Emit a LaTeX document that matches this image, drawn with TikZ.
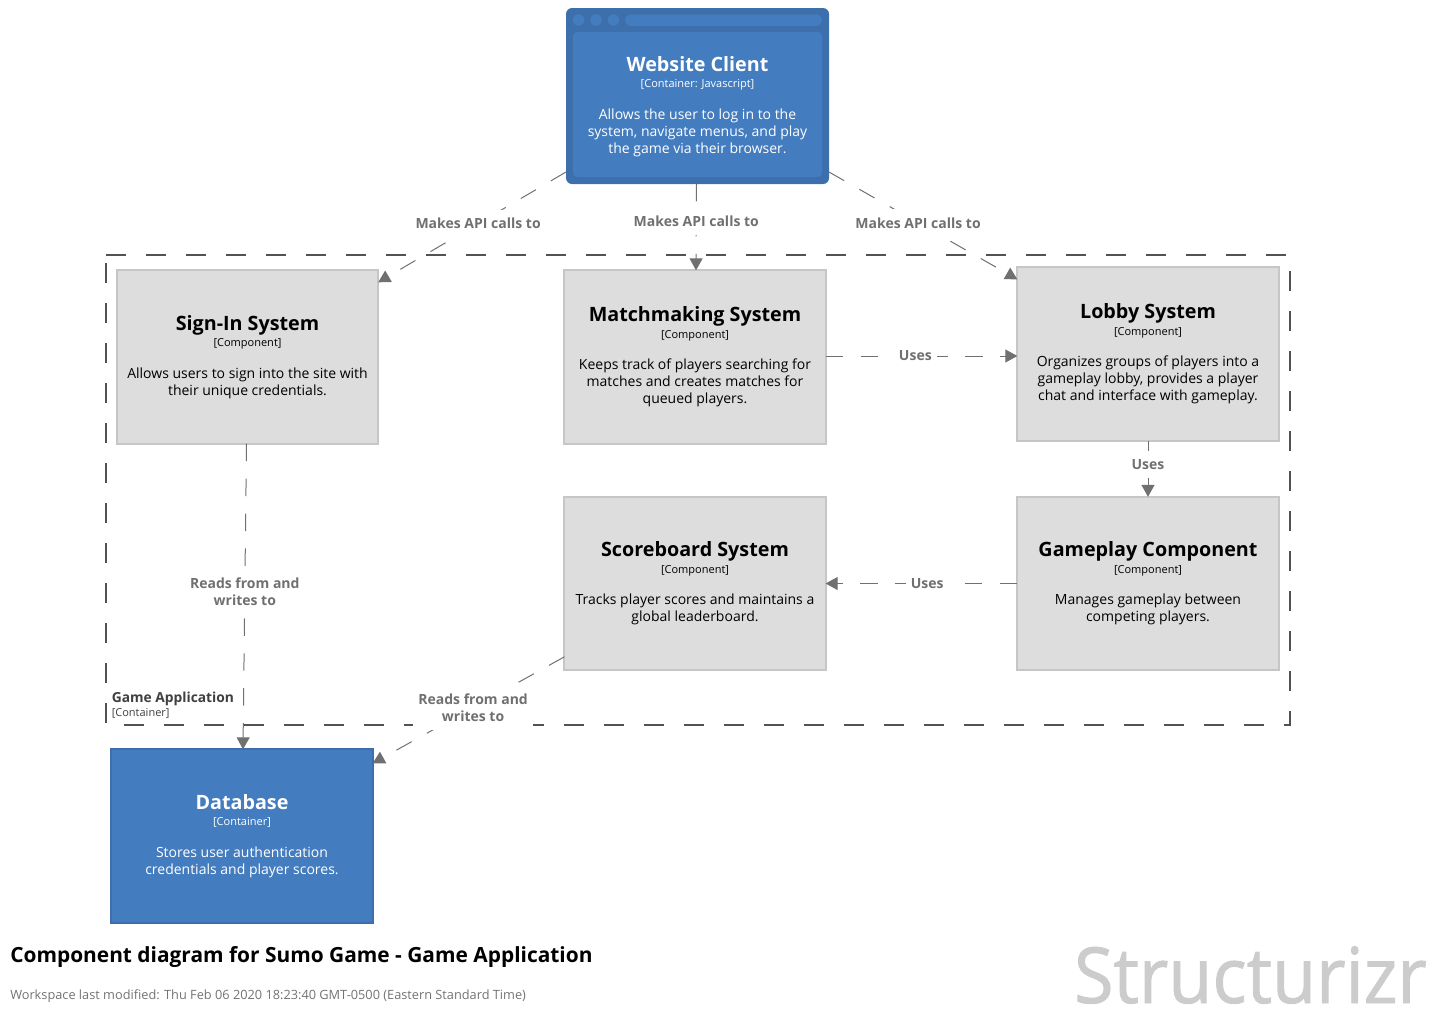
\documentclass[tikz,border=0pt]{standalone}
\usepackage{fontspec}
\setmainfont{Open Sans}
\newfontfamily\logofont[FakeBold=1.2,FakeStretch=0.93]{Open Sans}
\usetikzlibrary{arrows.meta}
\definecolor{elblue}{HTML}{437CBF}
\definecolor{eldark}{HTML}{3D6FAC}
\definecolor{elgray}{HTML}{DDDDDD}
\definecolor{elline}{HTML}{C6C6C6}
\definecolor{linkgray}{HTML}{707070}
\newcommand{\eltitle}[1]{{\fontsize{14.8}{18}\selectfont\bfseries #1}}
\newcommand{\elkind}[1]{{\fontsize{8.25}{12}\selectfont #1}}
\tikzset{
  x=0.75pt,y=-0.75pt,
  elbox/.style={draw=elline,fill=elgray,line width=1.5pt,minimum width=196pt,minimum height=130pt,outer sep=0pt,
    align=center,inner sep=0pt,font=\fontsize{10.5}{12.75}\selectfont,text=black},
  bluebox/.style={elbox,draw=eldark,fill=elblue,text=white},
  uses/.style={draw=linkgray,line width=0.75pt,dash pattern=on 13.1pt off 13.1pt,-{Triangle[length=9pt,width=9.75pt,fill=linkgray]}},
  uselabel/.style={fill=white,text=linkgray,align=center,inner xsep=3.75pt,inner ysep=6.5pt,font=\fontsize{10.5}{12.75}\selectfont\bfseries},
}
\begin{document}
\begin{tikzpicture}
\useasboundingbox (0,0) rectangle (1436,1015);

% boundary of the container
\draw[line width=1.5pt,draw=black!68,dash pattern=on 15pt off 15pt] (105.5,255) -- (1290,255) -- (1290,724.5) -- (105.5,724.5) -- cycle;

\node[elbox] (signin) at (247.5,357) {\eltitle{Sign-In System}\\[-0.5pt]\elkind{[Component]}\\[10.75pt]
  Allows users to sign into the site with\\their unique credentials.};
\node[elbox] (matchmaking) at (695,357) {\eltitle{Matchmaking System}\\[-0.5pt]\elkind{[Component]}\\[10.75pt]
  Keeps track of players searching for\\matches and creates matches for\\queued players.};
\node[elbox] (lobby) at (1148,354) {\eltitle{Lobby System}\\[-0.5pt]\elkind{[Component]}\\[10.75pt]
  Organizes groups of players into a\\gameplay lobby, provides a player\\chat and interface with gameplay.};
\node[elbox] (scoreboard) at (695,583.5) {\eltitle{Scoreboard System}\\[-0.5pt]\elkind{[Component]}\\[10.75pt]
  Tracks player scores and maintains a\\global leaderboard.};
\node[elbox] (gameplay) at (1148,583.5) {\eltitle{Gameplay Component}\\[-0.5pt]\elkind{[Component]}\\[10.75pt]
  Manages gameplay between\\competing players.};
\node[bluebox] (database) at (242,836) {\eltitle{Database}\\[-0.5pt]\elkind{[Container]}\\[10.75pt]
  Stores user authentication\\credentials and player scores.};

% browser shape
\node[draw=none,fill=eldark,rounded corners=4.5pt,minimum width=197.25pt,minimum height=132pt,outer sep=0pt] (client) at (697.5,96) {};
\fill[elblue,rounded corners=3pt] (573,32) rectangle (822,177);
\fill[elblue,rounded corners=4pt] (625,14.5) rectangle (822,26);
\foreach \dotx in {578.5,596,613.5}
  \fill[elblue] (\dotx,20) circle (4.3pt);
\node[align=center,inner sep=0pt,text=white,font=\fontsize{10.5}{12.75}\selectfont] (clienttext) at (697.5,106.5) {\eltitle{Website Client}\\[-0.5pt]\elkind{[Container: Javascript]}\\[10.75pt]
  Allows the user to log in to the\\system, navigate menus, and play\\the game via their browser.};

% connectors
\draw[uses] ([yshift=9pt]client.south west) -- ([yshift=-9pt]signin.north east) node[uselabel,pos=.468] (apisignin) {Makes API calls to};
\draw[uses] ([xshift=-.75pt]client.south) -- ([xshift=.75pt]matchmaking.north) node[uselabel,pos=.43] (apimatch) {Makes API calls to};
\draw[uses] ([yshift=9pt]client.south east) -- ([yshift=-9pt]lobby.north west) node[uselabel,pos=.473] (apilobby) {Makes API calls to};
\draw[uses] ([yshift=.75pt]matchmaking.east) -- ([yshift=-1.5pt]lobby.west) node[uselabel,pos=.468] (usesa) {Uses};
\draw[uses] (lobby.south) -- (gameplay.north) node[uselabel,pos=.42] (usesb) {Uses};
\draw[uses] (gameplay.west) -- (scoreboard.east) node[uselabel,pos=.47] (usesc) {Uses};
\draw[uses] ([xshift=-.75pt]signin.south) -- ([xshift=.75pt]database.north) node[uselabel,pos=.483] (readsa) {Reads from and\\writes to};
\draw[uses] ([yshift=10pt]scoreboard.south west) -- ([yshift=-10.5pt]database.north east) node[uselabel,pos=.476] (readsb) {Reads from and\\writes to};

% labels
\node[fill=white,anchor=north west,inner sep=0pt,minimum width=95pt,minimum height=23pt] (boundlabel) at (108,688.5) {};
\node[anchor=west,inner sep=0pt,text=black!75,font=\fontsize{10.35}{12}\selectfont\bfseries] (boundname) at (111.5,698.5) {Game Application};
\node[anchor=west,inner sep=0pt,text=black!75,font=\fontsize{8.25}{10}\selectfont] (boundkind) at (111.5,713.5) {[Container]};
\node[anchor=base west,inner sep=0pt,font=\fontsize{15.67}{20}\selectfont\bfseries] (title) at (10,962) {Component diagram for Sumo Game - Game Application};
\node[anchor=base west,inner sep=0pt,text=black!55,font=\fontsize{9.57}{12}\selectfont] (modified) at (10,999) {Workspace last modified: Thu Feb 06 2020 18:23:40 GMT-0500 (Eastern Standard Time)};
\node[anchor=base east,inner sep=0pt,text=black!20,font=\logofont\fontsize{58}{60}\selectfont] (logo) at (1427,1003) {Structurizr};
\end{tikzpicture}
\end{document}
